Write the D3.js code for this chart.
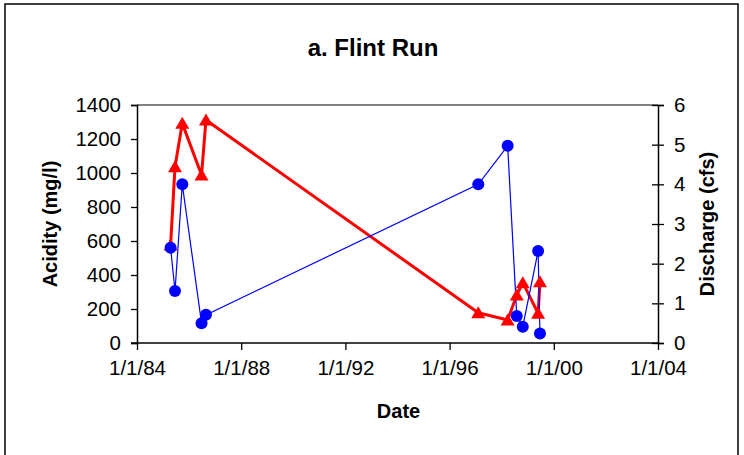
<!DOCTYPE html>
<html>
<head>
<meta charset="utf-8">
<script src="https://cdn.jsdelivr.net/npm/d3@7"></script>
<style>
  body { margin: 0; background: #fff; }
  text { font-family: Arial, "Liberation Sans", sans-serif; fill: #000; }
</style>
</head>
<body>
<script>
const width = 744, height = 455;

// sampling dates (shared by both series)
const dates = ["1985-04-16", "1985-06-17", "1985-09-27", "1986-06-24", "1986-08-25",
               "1997-02-06", "1998-03-25", "1998-07-31", "1998-10-23", "1999-05-26", "1999-06-21"];
// acidity, mg/l (left axis, red triangles)
const acidity = [576, 1037, 1292, 988, 1312, 178, 135, 282, 355, 175, 361];
// discharge, cfs (right axis, blue circles)
const discharge = [2.40, 1.31, 4.00, 0.50, 0.71, 4.00, 4.97, 0.68, 0.41, 2.32, 0.24];

const xTicks = ["1984-01-01", "1988-01-01", "1992-01-01", "1996-01-01", "2000-01-01", "2004-01-01"];
const leftTicks = [0, 200, 400, 600, 800, 1000, 1200, 1400];
const rightTicks = [0, 1, 2, 3, 4, 5, 6];

const parse = d3.utcParse("%Y-%m-%d");
const fmt = d => (d.getUTCMonth() + 1) + "/" + d.getUTCDate() + "/" + d3.utcFormat("%y")(d);

const plot = {left: 137, right: 658, top: 105, bottom: 343};

const x = d3.scaleUtc()
    .domain([parse(xTicks[0]), parse(xTicks[xTicks.length - 1])])
    .range([plot.left, plot.right]);
const yL = d3.scaleLinear().domain([0, 1400]).range([plot.bottom, plot.top]);
const yR = d3.scaleLinear().domain([0, 6]).range([plot.bottom, plot.top]);

const svg = d3.select("body").append("svg")
    .attr("width", width)
    .attr("height", height);

// chart area border
svg.append("rect")
    .attr("x", 5).attr("y", 4)
    .attr("width", 733).attr("height", 470)
    .attr("fill", "#fff").attr("stroke", "#000").attr("stroke-width", 1.5);

// plot area top border (grey)
svg.append("line")
    .attr("x1", plot.left).attr("x2", plot.right)
    .attr("y1", plot.top).attr("y2", plot.top)
    .attr("stroke", "#808080").attr("stroke-width", 2);

svg.append("text")
    .attr("x", 373).attr("y", 56)
    .attr("text-anchor", "middle")
    .style("font-size", "24px").style("font-weight", "bold")
    .text("a. Flint Run");

// axes
const xAxis = svg.append("g")
    .attr("transform", `translate(0,${plot.bottom})`)
    .call(d3.axisBottom(x).tickValues(xTicks.map(parse)).tickFormat(fmt).tickSize(7).tickPadding(10));

const leftAxis = svg.append("g")
    .attr("transform", `translate(${plot.left},0)`)
    .call(d3.axisLeft(yL).tickValues(leftTicks).tickFormat(d3.format("d")).tickSize(6).tickPadding(10));

const rightAxis = svg.append("g")
    .attr("transform", `translate(${plot.right},0)`)
    .call(d3.axisRight(yR).tickValues(rightTicks).tickFormat(d3.format("d")).tickSize(6).tickPadding(10));
rightAxis.selectAll(".tick line").attr("x1", -6);

[xAxis, leftAxis, rightAxis].forEach(a => {
  a.select(".domain").attr("stroke", "#000").attr("stroke-width", 1.5);
  a.selectAll(".tick line").attr("stroke", "#000").attr("stroke-width", 1.3);
  a.selectAll("text").style("font-size", "20.5px").style("font-family", "Arial, 'Liberation Sans', sans-serif");
});
xAxis.select(".domain").attr("d", `M${plot.left - 6},0H${plot.right}`);

svg.append("text")
    .attr("transform", `translate(57,${(plot.top + plot.bottom) / 2}) rotate(-90)`)
    .attr("text-anchor", "middle")
    .style("font-size", "20px").style("font-weight", "bold")
    .text("Acidity (mg/l)");

svg.append("text")
    .attr("transform", `translate(714,${(plot.top + plot.bottom) / 2}) rotate(-90)`)
    .attr("text-anchor", "middle")
    .style("font-size", "20px").style("font-weight", "bold")
    .text("Discharge (cfs)");

svg.append("text")
    .attr("x", (plot.left + plot.right) / 2 + 1).attr("y", 418)
    .attr("text-anchor", "middle")
    .style("font-size", "20px").style("font-weight", "bold")
    .text("Date");

const acidPts = dates.map((d, i) => ({date: parse(d), v: acidity[i]}));
const flowPts = dates.map((d, i) => ({date: parse(d), v: discharge[i]}));

// acidity series
svg.append("path")
    .datum(acidPts)
    .attr("fill", "none").attr("stroke", "#ff0000").attr("stroke-width", 3)
    .attr("stroke-linejoin", "round")
    .attr("d", d3.line().x(d => x(d.date)).y(d => yL(d.v)));

// discharge series
svg.append("path")
    .datum(flowPts)
    .attr("fill", "none").attr("stroke", "#0000ff").attr("stroke-width", 1.2)
    .attr("d", d3.line().x(d => x(d.date)).y(d => yR(d.v)));

svg.append("g").selectAll("path")
    .data(acidPts)
    .join("path")
      .attr("transform", d => `translate(${x(d.date)},${yL(d.v)})`)
      .attr("d", "M0,-6.5L7,5.5L-7,5.5Z")
      .attr("fill", "#ff0000");

svg.append("g").selectAll("circle")
    .data(flowPts)
    .join("circle")
      .attr("cx", d => x(d.date))
      .attr("cy", d => yR(d.v))
      .attr("r", 6)
      .attr("fill", "#0000ff");
</script>
</body>
</html>
